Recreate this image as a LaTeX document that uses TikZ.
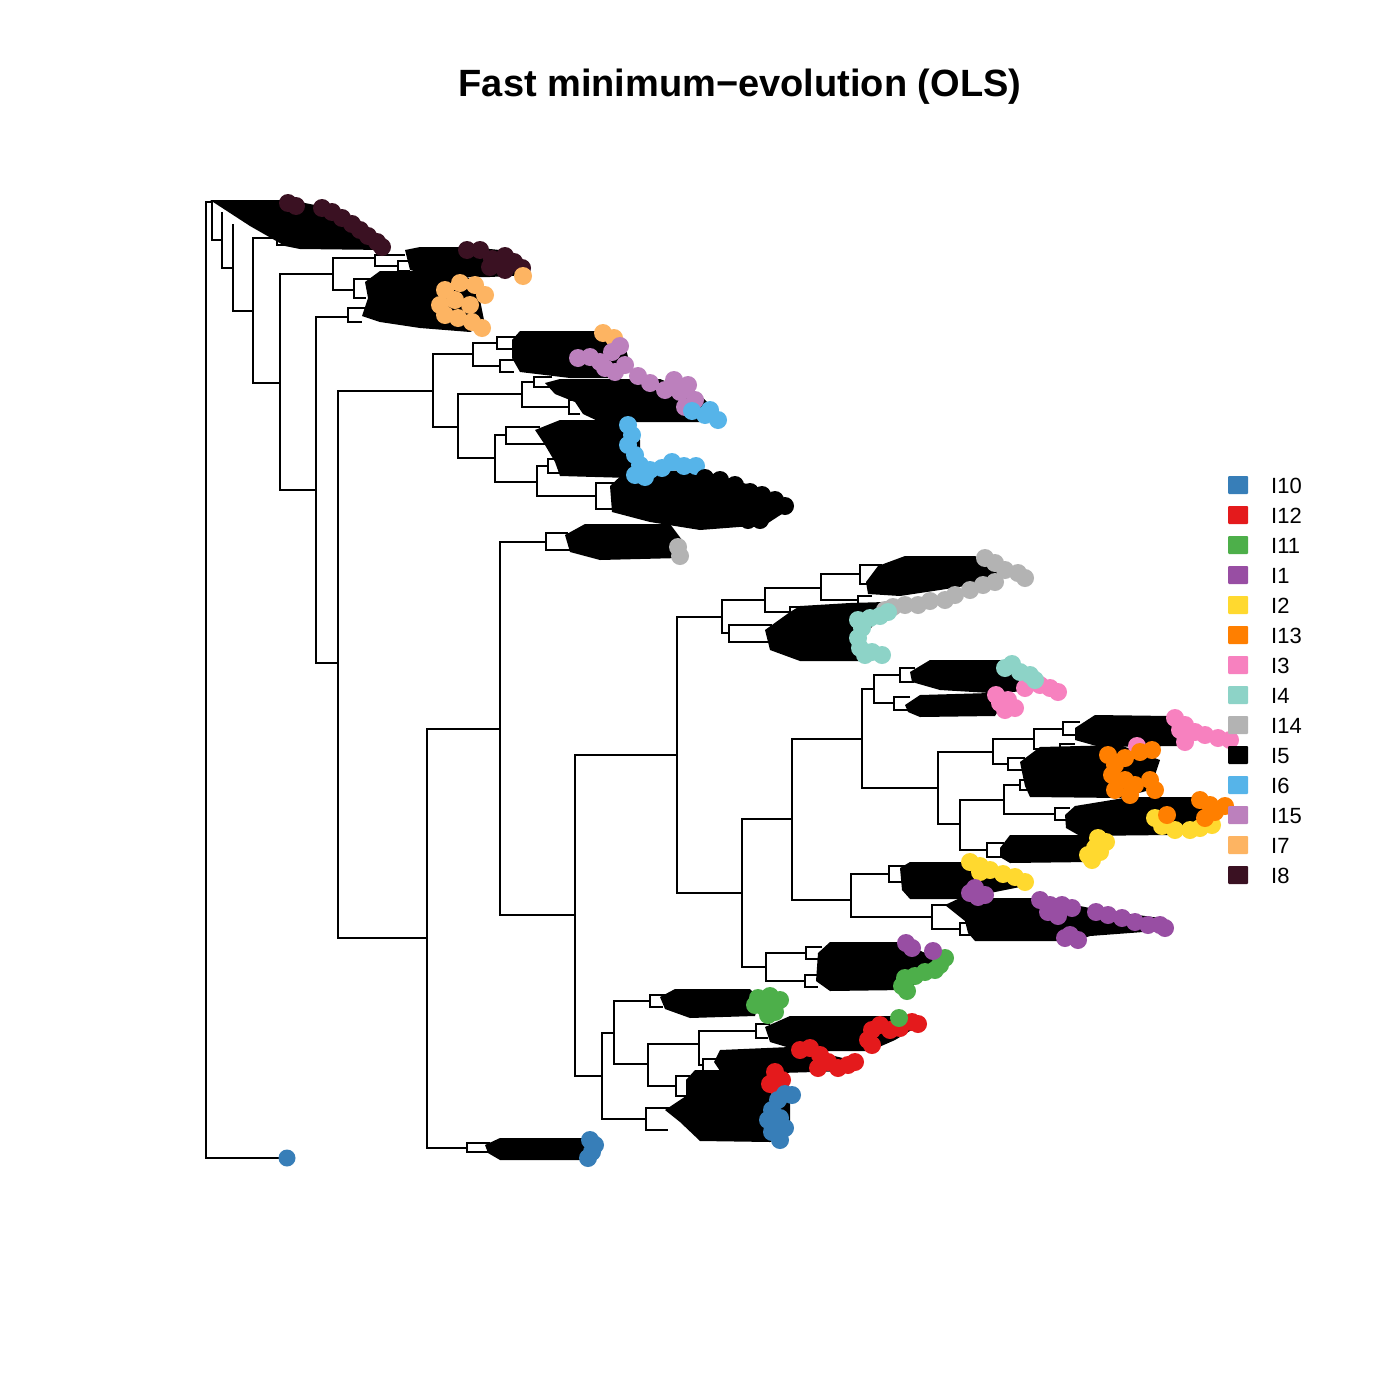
\documentclass[tikz,border=0pt]{standalone}
\usepackage{fontspec}
\setmainfont{Liberation Sans}
\definecolor{cI10}{HTML}{377EB8}
\definecolor{cI12}{HTML}{E41A1C}
\definecolor{cI11}{HTML}{4DAF4A}
\definecolor{cI1}{HTML}{984EA3}
\definecolor{cI2}{HTML}{FFD92F}
\definecolor{cI13}{HTML}{FF7F00}
\definecolor{cI3}{HTML}{F781BF}
\definecolor{cI4}{HTML}{8DD3C7}
\definecolor{cI14}{HTML}{B3B3B3}
\definecolor{cI5}{HTML}{000000}
\definecolor{cI6}{HTML}{56B4E9}
\definecolor{cI15}{HTML}{BC80BD}
\definecolor{cI7}{HTML}{FDB462}
\definecolor{cI8}{HTML}{3A1122}
\tikzset{
  edge/.style={line width=2.7pt, line join=miter, line cap=rect},
  thin edge/.style={line width=1.8pt, line join=miter},
  mass/.style={fill=black},
  tipdot/.style={fill=#1},
  legbox/.style={fill=#1, minimum width=20pt, minimum height=18pt, inner sep=0pt, rounded corners=1pt},
  legtxt/.style={anchor=west, font=\fontsize{22}{24}\selectfont, inner sep=0pt}
}
\newcommand\tipset[2]{\foreach \p in {#2} {\fill[tipdot=#1] \p circle (9);}}
% bracket: x, y top, y bottom, end x of top line, end x of bottom line
\newcommand\bk[5]{\draw[thin edge] (#4,#2) -- (#1,#2) -- (#1,#3) -- (#5,#3);}
\begin{document}
\begin{tikzpicture}[x=1pt,y=-1pt]
\useasboundingbox (0,0) rectangle (1400,1400);
\fill[white] (0,0) rectangle (1400,1400);
% title
\node[font=\bfseries\fontsize{38}{44}\selectfont, anchor=base] (title) at (740,96) {Fast minimum−evolution (OLS)};

% ---------- black masses (collapsed dense clades) ----------
\fill[mass] (210,200) -- (290,200) -- (340,210) -- (380,238) -- (385,250) -- (300,249) -- (285,246) -- (250,226) -- (230,213) -- cycle;
\fill[mass] (405,250) -- (420,247) -- (470,247) -- (500,250) -- (525,262) -- (528,275) -- (490,277) -- (440,277) -- (410,270) -- cycle;
\fill[mass] (365,282) -- (380,271) -- (440,271) -- (470,278) -- (480,300) -- (485,325) -- (470,332) -- (420,328) -- (380,322) -- (362,316) -- (368,298) -- cycle;
\fill[mass] (512,340) -- (520,331) -- (600,331) -- (625,345) -- (630,365) -- (620,378) -- (570,378) -- (520,372) -- (512,358) -- cycle;
\fill[mass] (545,383) -- (560,379) -- (660,379) -- (700,395) -- (720,415) -- (700,422) -- (600,422) -- (583,414) -- (575,402) -- (555,394) -- cycle;
\fill[mass] (535,430) -- (560,420) -- (625,420) -- (640,440) -- (640,470) -- (630,478) -- (560,476) -- (555,462) -- (545,445) -- cycle;
\fill[mass] (610,486) -- (625,472) -- (700,470) -- (760,488) -- (790,503) -- (785,512) -- (765,525) -- (700,530) -- (650,522) -- (612,512) -- cycle;
\fill[mass] (565,535) -- (585,524) -- (670,524) -- (682,540) -- (680,558) -- (600,560) -- (570,552) -- cycle;
\fill[mass] (878,566) -- (905,556) -- (975,556) -- (1000,570) -- (990,582) -- (940,590) -- (900,596) -- (868,594) -- (866,582) -- cycle;
\fill[mass] (790,612) -- (800,606) -- (850,603) -- (885,602) -- (880,616) -- (862,640) -- (862,661) -- (800,661) -- (770,650) -- (765,630) -- cycle;
\fill[mass] (910,672) -- (930,660) -- (1000,660) -- (1030,678) -- (1050,690) -- (990,693) -- (940,690) -- (912,682) -- cycle;
\fill[mass] (905,705) -- (920,695) -- (990,693) -- (1002,705) -- (995,716) -- (920,717) -- (908,712) -- cycle;
\fill[mass] (1075,728) -- (1095,715) -- (1170,716) -- (1200,730) -- (1180,746) -- (1100,747) -- (1075,740) -- cycle;
\fill[mass] (1020,762) -- (1040,747) -- (1120,745) -- (1160,760) -- (1150,790) -- (1120,798) -- (1030,797) -- (1025,786) -- (1022,772) -- cycle;
\fill[mass] (1065,815) -- (1075,806) -- (1130,797) -- (1200,797) -- (1225,808) -- (1210,820) -- (1170,835) -- (1080,836) -- (1066,828) -- cycle;
\fill[mass] (1000,848) -- (1010,835) -- (1095,835) -- (1100,850) -- (1090,862) -- (1010,863) -- (1000,857) -- cycle;
\fill[mass] (900,868) -- (910,862) -- (965,862) -- (1000,878) -- (1030,885) -- (990,893) -- (970,899) -- (910,899) -- (902,890) -- cycle;
\fill[mass] (945,905) -- (960,898) -- (1040,898) -- (1100,910) -- (1160,918) -- (1170,930) -- (1090,936) -- (1075,941) -- (975,941) -- (968,933) -- (965,921) -- cycle;
\fill[mass] (818,953) -- (830,942) -- (900,942) -- (930,955) -- (940,970) -- (905,990) -- (830,991) -- (816,981) -- cycle;
\fill[mass] (660,997) -- (675,989) -- (750,989) -- (760,1000) -- (755,1016) -- (690,1018) -- (665,1009) -- cycle;
\fill[mass] (765,1027) -- (790,1016) -- (900,1016) -- (920,1025) -- (895,1040) -- (870,1051) -- (800,1051) -- (770,1042) -- cycle;
\fill[mass] (714,1062) -- (720,1050) -- (790,1047) -- (830,1055) -- (860,1062) -- (850,1071) -- (780,1073) -- (720,1071) -- cycle;
\fill[mass] (686,1080) -- (695,1070) -- (770,1070) -- (790,1090) -- (790,1135) -- (770,1142) -- (700,1141) -- (680,1122) -- (665,1110) -- (686,1096) -- cycle;
\fill[mass] (485,1145) -- (500,1138) -- (585,1138) -- (590,1160) -- (500,1160) -- (488,1153) -- cycle;

% ---------- backbone ----------
\draw[edge] (287,1158) -- (206,1158) -- (206,202) -- (212,202);
\draw[edge] (212,202) -- (212,240) -- (222,240);
\draw[edge] (222,213) -- (222,268) -- (233,268);
\draw[edge] (233,225) -- (233,311) -- (253,311);
\draw[edge] (253,238) -- (253,383) -- (280,383);
\draw[edge] (253,238) -- (277,238);
\draw[edge] (280,274) -- (280,490) -- (316,490);
\draw[edge] (333,274) -- (280,274);
\draw[edge] (375,258) -- (333,258) -- (333,290) -- (354,290);
\draw[edge] (375,255) -- (375,266) -- (398,266);
\draw[edge] (354,279) -- (354,298);
\draw[edge] (348,317) -- (316,317) -- (316,663) -- (338,663);
\draw[edge] (348,308) -- (348,322);
\draw[edge] (433,391) -- (338,391) -- (338,938) -- (427,938);
\draw[edge] (473,354) -- (433,354) -- (433,427) -- (458,427);
\draw[edge] (497,343) -- (473,343) -- (473,366) -- (500,366);
\draw[edge] (522,394) -- (458,394) -- (458,458) -- (495,458);
\draw[edge] (534,382) -- (522,382) -- (522,407) -- (569,407);
\draw[edge] (506,435) -- (495,435) -- (495,482) -- (537,482);
\draw[edge] (506,427) -- (506,444);
\draw[edge] (548,466) -- (537,466) -- (537,496) -- (596,496);
\draw[edge] (596,483) -- (596,509);
\draw[edge] (500,729) -- (427,729) -- (427,1148) -- (467,1148);
\draw[edge] (467,1143) -- (467,1152);
\draw[edge] (546,542) -- (500,542) -- (500,915) -- (575,915);
\draw[edge] (546,533) -- (546,550);
\draw[edge] (677,755) -- (575,755) -- (575,1076) -- (602,1076);
\draw[edge] (722,617) -- (677,617) -- (677,893) -- (742,893);
\draw[edge] (765,600) -- (722,600) -- (722,633) -- (729,633);
\draw[edge] (729,625) -- (729,642);
\draw[edge] (821,588) -- (765,588) -- (765,612) -- (790,612);
\draw[edge] (860,574) -- (821,574) -- (821,600) -- (858,600);
\draw[edge] (860,565) -- (860,584);
\draw[edge] (792,819) -- (742,819) -- (742,967) -- (766,967);
\draw[edge] (862,739) -- (792,739) -- (792,900) -- (851,900);
\draw[edge] (874,689) -- (862,689) -- (862,788) -- (938,788);
\draw[edge] (900,675) -- (874,675) -- (874,703) -- (894,703);
\draw[edge] (993,752) -- (938,752) -- (938,824) -- (960,824);
\draw[edge] (1034,739) -- (993,739) -- (993,764) -- (1008,764);
\draw[edge] (1063,729) -- (1034,729) -- (1034,749) -- (1060,749);
\draw[edge] (1004,800) -- (960,800) -- (960,850) -- (987,850);
\draw[edge] (1020,785) -- (1004,785) -- (1004,814) -- (1055,814);
\draw[edge] (889,874) -- (851,874) -- (851,917) -- (932,917);
\draw[edge] (932,905) -- (932,929) -- (960,929);
\draw[edge] (806,953) -- (766,953) -- (766,981) -- (805,981);
\draw[edge] (614,1033) -- (602,1033) -- (602,1119) -- (646,1119);
\draw[edge] (646,1108) -- (646,1130);
\draw[edge] (650,1001) -- (614,1001) -- (614,1064) -- (648,1064);
\draw[edge] (699,1044) -- (648,1044) -- (648,1086) -- (676,1086);
\draw[edge] (756,1031) -- (699,1031) -- (699,1065) -- (703,1065);

% ---------- small brackets at clade bases ----------
\bk{277}{233}{245}{292}{290}
\bk{398}{261}{271}{412}{410}
\bk{375}{255}{266}{405}{398}
\bk{354}{279}{298}{372}{366}
\bk{348}{308}{322}{368}{362}
\bk{497}{337}{349}{516}{514}
\bk{500}{360}{372}{515}{514}
\bk{534}{377}{387}{552}{550}
\bk{569}{400}{414}{585}{580}
\bk{506}{427}{444}{540}{548}
\bk{548}{459}{473}{566}{560}
\bk{596}{483}{509}{615}{615}
\bk{546}{533}{550}{568}{572}
\bk{860}{565}{584}{882}{870}
\bk{858}{596}{604}{872}{870}
\bk{790}{607}{617}{806}{800}
\bk{729}{625}{642}{772}{768}
\bk{900}{668}{682}{915}{914}
\bk{894}{697}{710}{910}{908}
\bk{1063}{722}{735}{1080}{1078}
\bk{1060}{744}{754}{1075}{1072}
\bk{1008}{758}{770}{1025}{1024}
\bk{1020}{780}{790}{1036}{1034}
\bk{1055}{808}{820}{1070}{1068}
\bk{987}{843}{857}{1004}{1002}
\bk{889}{866}{882}{905}{903}
\bk{960}{923}{935}{975}{972}
\bk{806}{947}{959}{822}{820}
\bk{805}{975}{987}{820}{818}
\bk{650}{995}{1007}{665}{663}
\bk{756}{1024}{1038}{770}{768}
\bk{703}{1059}{1071}{718}{716}
\bk{676}{1076}{1096}{690}{688}
\bk{646}{1108}{1130}{670}{668}
\bk{467}{1143}{1152}{490}{492}
\draw[thin edge] (932,905) -- (950,905);

% ---------- coloured tips ----------
\tipset{cI8}{(288,203),(296,206),(322,208),(332,212),(342,218),(352,224),(360,230),(368,236),(377,242),(382,247)}
\tipset{cI8}{(467,250),(480,250),(492,259),(505,256),(514,262),(522,268),(505,270),(490,267)}
\tipset{cI7}{(523,276),(445,290),(460,283),(475,285),(485,295),(455,300),(470,305),(445,315),(458,318),(472,322),(482,328),(440,305)}
\tipset{cI7}{(603,333),(614,338)}
\tipset{cI15}{(578,358),(590,357),(600,362),(612,352),(620,346),(625,365),(615,372),(605,368)}
\tipset{cI15}{(638,376),(650,383),(665,390),(680,392),(674,380),(688,385),(695,400),(685,407)}
\tipset{cI6}{(692,411),(705,415),(718,420),(710,410)}
\tipset{cI6}{(628,425),(632,435),(628,445),(635,455),(640,465),(650,470),(662,468),(672,462),(684,466),(696,466),(645,477),(635,475)}
\tipset{cI5}{(705,478),(720,480),(735,485),(750,492),(762,495),(775,500),(785,506),(760,520),(748,520)}
\tipset{cI14}{(678,547),(680,556)}
\tipset{cI14}{(985,558),(995,563),(1005,570),(1018,573),(1025,578),(995,582),(983,585),(970,590),(955,595),(945,600),(930,601),(918,605),(905,605),(893,607),(885,610)}
\tipset{cI4}{(858,620),(862,628),(870,618),(880,616),(888,612),(858,638),(860,648),(865,655),(872,652),(882,655)}
\tipset{cI3}{(1040,685),(1050,688),(1058,692),(1025,688)}
\tipset{cI4}{(1012,664),(1020,672),(1030,675),(1035,680),(1005,668)}
\tipset{cI3}{(996,695),(1000,703),(1008,700),(1005,710),(1015,708)}
\tipset{cI3}{(1175,718),(1185,725),(1195,732),(1205,735),(1218,738),(1230,740),(1185,742),(1180,730),(1137,746)}
\tipset{cI13}{(1108,755),(1115,765),(1125,758),(1140,752),(1152,750),(1112,775),(1125,780),(1135,785),(1150,780),(1155,790),(1115,790),(1130,795)}
\tipset{cI2}{(1155,818),(1162,826),(1175,830),(1190,830),(1200,828),(1212,825)}
\tipset{cI13}{(1200,800),(1210,805),(1215,812),(1205,818),(1225,806),(1167,815)}
\tipset{cI2}{(1098,838),(1106,842),(1095,848),(1100,852),(1092,860),(1088,855)}
\tipset{cI2}{(970,862),(980,866),(990,870),(1003,874),(1015,877),(1025,882),(980,872)}
\tipset{cI1}{(975,888),(978,897),(970,893),(985,895)}
\tipset{cI1}{(1040,900),(1050,905),(1062,905),(1072,908),(1048,912),(1058,916),(1096,912),(1108,915),(1122,918),(1135,922),(1148,925),(1160,925),(1165,928),(1070,935),(1078,940),(1065,938)}
\tipset{cI11}{(945,958),(940,965),(935,970),(925,972),(915,976),(905,978),(902,986),(907,991)}
\tipset{cI1}{(906,943),(912,948),(933,951)}
\tipset{cI11}{(758,998),(770,996),(780,1000),(765,1008),(775,1012),(768,1015),(755,1005)}
\tipset{cI12}{(872,1030),(880,1025),(890,1030),(900,1028),(912,1022),(918,1024),(868,1040),(872,1045)}
\tipset{cI11}{(899,1018)}
\tipset{cI12}{(800,1050),(810,1048),(820,1055),(828,1062),(838,1068),(848,1065),(855,1062),(818,1068)}
\tipset{cI12}{(775,1072),(782,1080),(778,1088),(770,1084)}
\tipset{cI10}{(785,1094),(792,1095),(778,1100),(772,1110),(768,1120),(780,1118),(785,1128),(772,1132),(780,1140)}
\tipset{cI10}{(590,1140),(595,1145),(592,1152),(588,1158)}
\fill[cI10] (287,1158) circle (8.5);

% ---------- legend ----------
\foreach \c/\t [count=\i from 0] in {cI10/I10,cI12/I12,cI11/I11,cI1/I1,cI2/I2,cI13/I13,cI3/I3,cI4/I4,cI14/I14,cI5/I5,cI6/I6,cI15/I15,cI7/I7,cI8/I8} {
  \node[legbox=\c] (lb\i) at (1238,485+30*\i) {};
  \node[legtxt] (lt\i) at (1271,486+30*\i) {\t};
}
\end{tikzpicture}
\end{document}
